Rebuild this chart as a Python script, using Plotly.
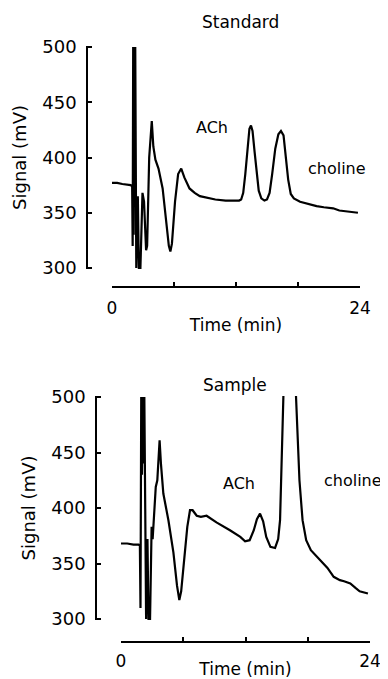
import plotly.graph_objects as go

# ---- data ----
std_time = [0.0, 0.5, 1.0, 1.5, 1.8, 1.95, 2.0, 2.05, 2.1, 2.15, 2.2, 2.25, 2.3, 2.35,
            2.5, 2.6, 2.75, 2.95, 3.1, 3.3, 3.4, 3.6, 3.85, 4.0, 4.2, 4.5, 4.9, 5.2,
            5.5, 5.65, 5.8, 6.1, 6.4, 6.7, 7.0, 7.5, 8.0, 8.5, 9.0, 10.0, 11.0, 11.8,
            12.3, 12.5, 12.7, 12.9, 13.1, 13.3, 13.45, 13.6, 13.8, 14.0, 14.2, 14.45,
            14.75, 15.0, 15.25, 15.5, 15.8, 16.1, 16.35, 16.6, 16.85, 17.05, 17.3,
            17.6, 18.2, 19.0, 19.8, 20.5, 21.4, 22.0, 22.8, 23.8]
std_signal = [377, 377, 376, 375, 375, 374, 320, 500, 330, 500, 380, 500, 395, 300,
              365, 300, 300, 368, 360, 316, 320, 400, 433, 410, 398, 390, 372, 348,
              320, 315, 322, 360, 385, 390, 382, 372, 368, 365, 364, 362, 361, 361,
              361, 362, 368, 385, 410, 426, 429, 424, 405, 385, 370, 363,
              361, 362, 368, 385, 408, 421, 424, 420, 400, 380, 367,
              363, 360, 358, 356, 355, 354, 352, 351, 350]

smp_time = [0.0, 0.6, 1.2, 1.7, 1.82, 1.88, 1.95, 2.02, 2.1, 2.18, 2.25, 2.32, 2.42,
            2.55, 2.65, 2.8, 2.95, 3.05, 3.15, 3.35, 3.5, 3.72, 3.85, 4.08, 4.57, 5.05,
            5.4, 5.62, 5.8, 6.0, 6.39, 6.65, 6.9, 7.3, 7.7, 8.25, 9.2, 10.5, 11.5, 11.96,
            12.4, 12.8, 13.1, 13.4, 13.7, 14.0, 14.4, 14.85, 15.15, 15.33, 15.65, 15.9,
            16.6, 16.87, 17.2, 17.5, 17.85, 18.3, 19.0, 19.5, 19.9, 20.5, 21.1, 21.5,
            22.1, 22.6, 23.0, 23.8]
smp_signal = [368, 368, 367, 367, 366, 310, 500, 430, 500, 440, 500, 420, 300,
              372, 300, 300, 383, 372, 386, 419, 425, 461, 440, 413, 389, 360,
              330, 317, 325, 345, 383, 398, 398, 393, 392, 393, 387, 380, 374, 370,
              371, 380, 390, 395, 388, 374, 365, 364, 372, 389, 500, 620,
              620, 500, 425, 389, 371, 362, 355, 350, 346, 338, 335, 334,
              332, 328, 325, 323]

x_tickvals = [0, 6, 12, 18, 24]
x_ticktext = ["0", "", "", "", "24"]
y_tickvals = [300, 350, 400, 450, 500]
y_ticktext = ["300", "350", "400", "450", "500"]

panel_titles = ["Standard", "Sample"]
peak_labels = ["ACh", "choline"]
std_label_pos = [(9.7, 427), (21.8, 390)]
smp_label_pos = [(11.4, 422), (22.4, 425)]

# the page has an 8 px body margin; the figure is sized so it fits the window
OFF = 8
W, H = 388 - OFF, 679 - OFF
FONT = "DejaVu Sans"


def px(x):
    return (x - OFF) / W


def py(y):
    return 1 - (y - OFF) / H


fig = go.Figure()
fig.add_trace(go.Scatter(x=std_time, y=std_signal, mode="lines",
                         line=dict(color="black", width=2.2), xaxis="x", yaxis="y",
                         showlegend=False, hoverinfo="skip"))
fig.add_trace(go.Scatter(x=smp_time, y=smp_signal, mode="lines",
                         line=dict(color="black", width=2.2), xaxis="x2", yaxis="y2",
                         showlegend=False, hoverinfo="skip"))


def xax(dom, pos, lab_off, title_off):
    return dict(domain=dom, range=[0, 24], anchor="free", position=pos,
                automargin=False,
                showline=True, linecolor="black", linewidth=1.5,
                ticks="inside", ticklen=4, tickwidth=1.5, tickcolor="black",
                tickvals=x_tickvals, ticktext=x_ticktext, ticklabelstandoff=lab_off,
                tickfont=dict(family=FONT, size=17, color="black"),
                showgrid=False, zeroline=False, fixedrange=True,
                title=dict(text="Time (min)", standoff=title_off,
                           font=dict(family=FONT, size=17, color="black")))


def yax(dom, pos):
    return dict(domain=dom, range=[299, 501], anchor="free", position=pos,
                automargin=False,
                showline=True, linecolor="black", linewidth=1.5,
                ticks="inside", ticklen=4, tickwidth=1.5, tickcolor="black",
                tickvals=y_tickvals, ticktext=y_ticktext, ticklabelstandoff=6,
                tickfont=dict(family=FONT, size=18, color="black"),
                showgrid=False, zeroline=False, fixedrange=True,
                title=dict(text="Signal (mV)", standoff=10,
                           font=dict(family=FONT, size=18, color="black")))


s1 = (268 - 47) / 200
fig.update_layout(
    xaxis=xax([px(112), px(360)], py(287), 6, 1),
    yaxis=yax([py(268 + s1), py(47 - s1)], px(87)),
)
s2 = (619 - 397) / 200
fig.update_layout(
    xaxis2=xax([px(121), px(370)], py(642), 4, 5),
    yaxis2=yax([py(619 + s2), py(397 - s2)], px(96)),
)

ann = []
ann.append(dict(text=panel_titles[0], x=px(240), y=py(22), xref="paper", yref="paper",
                xanchor="center", yanchor="middle",
                showarrow=False, font=dict(family=FONT, size=17, color="black")))
ann.append(dict(text=panel_titles[1], x=px(235), y=py(385), xref="paper", yref="paper",
                xanchor="center", yanchor="middle",
                showarrow=False, font=dict(family=FONT, size=17, color="black")))
for lab, (tx, ty) in zip(peak_labels, std_label_pos):
    ann.append(dict(text=lab, x=tx, y=ty, xref="x", yref="y", showarrow=False,
                    font=dict(family=FONT, size=16, color="black")))
for lab, (tx, ty) in zip(peak_labels, smp_label_pos):
    ann.append(dict(text=lab, x=tx, y=ty, xref="x2", yref="y2", showarrow=False,
                    font=dict(family=FONT, size=16, color="black")))

fig.update_layout(
    width=W, height=H, autosize=False,
    margin=dict(l=0, r=0, t=0, b=0, pad=0),
    paper_bgcolor="white", plot_bgcolor="white",
    annotations=ann,
    showlegend=False,
)

fig.write_html("out.html")
